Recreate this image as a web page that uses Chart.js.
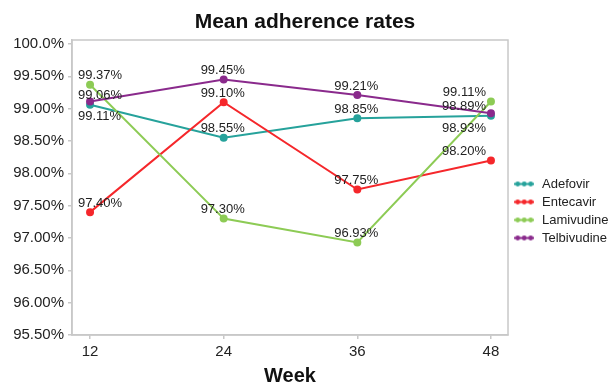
<!DOCTYPE html>
<html>
<head>
<meta charset="utf-8">
<script src="https://cdn.jsdelivr.net/npm/chart.js@4/dist/chart.umd.min.js"></script>
<style>
  html, body { margin: 0; padding: 0; background: #fff; }
  #wrap { width: 610px; height: 385px; }
</style>
</head>
<body>
<div id="wrap"><canvas id="chart" width="610" height="385"></canvas></div>
<script>
// Study weeks and mean adherence (%) per drug
const weeks = [12, 24, 36, 48];
const seriesNames = ['Adefovir', 'Entecavir', 'Lamivudine', 'Telbivudine'];
const adefovir = [99.06, 98.55, 98.85, 98.89];
const entecavir = [97.40, 99.10, 97.75, 98.20];
const lamivudine = [99.37, 97.30, 96.93, 99.11];
const telbivudine = [99.11, 99.45, 99.21, 98.93];

// Axis ticks
const yTickValues = [95.5, 96.0, 96.5, 97.0, 97.5, 98.0, 98.5, 99.0, 99.5, 100.0];
const yTickLabels = ['95.50%', '96.00%', '96.50%', '97.00%', '97.50%', '98.00%', '98.50%', '99.00%', '99.50%', '100.0%'];
const xTickLabels = ['12', '24', '36', '48'];

const seriesValues = [adefovir, entecavir, lamivudine, telbivudine];
const seriesColors = ['#26A29B', '#F5272B', '#8DCB55', '#8A2A8C'];
// indices whose value label sits under the point instead of above it
const labelsBelow = [[], [], [], [0, 3]];

const FONT = '"Liberation Sans", Arial, Helvetica, sans-serif';
Chart.defaults.font.family = FONT;
Chart.defaults.color = '#222';

// small legend marker: a line with three dots
function legendMarker(color) {
  const c = document.createElement('canvas');
  c.width = 20; c.height = 7;
  const g = c.getContext('2d');
  g.strokeStyle = color; g.fillStyle = color; g.lineWidth = 2;
  g.beginPath(); g.moveTo(0, 3.5); g.lineTo(20, 3.5); g.stroke();
  [3.5, 10, 16.5].forEach(x => { g.beginPath(); g.arc(x, 3.5, 2.4, 0, Math.PI * 2); g.fill(); });
  return c;
}

const datasets = seriesNames.map((name, s) => ({
  label: name,
  data: weeks.map((w, i) => ({ x: w, y: seriesValues[s][i] })),
  borderColor: seriesColors[s],
  backgroundColor: seriesColors[s],
  pointBackgroundColor: seriesColors[s],
  pointBorderColor: seriesColors[s],
  borderWidth: 2,
  pointRadius: 3,
  pointHoverRadius: 3,
  tension: 0,
  order: seriesNames.length - s,
  labelBelow: labelsBelow[s]
}));

// value labels next to each point
const valueLabels = {
  id: 'valueLabels',
  afterDatasetsDraw(chart) {
    const { ctx, chartArea } = chart;
    ctx.save();
    ctx.font = '13px ' + FONT;
    ctx.fillStyle = '#222';
    ctx.textBaseline = 'middle';
    ctx.textAlign = 'left';
    chart.data.datasets.forEach((ds, di) => {
      const meta = chart.getDatasetMeta(di);
      meta.data.forEach((pt, i) => {
        const text = ds.data[i].y.toFixed(2) + '%';
        const w = ctx.measureText(text).width;
        let left = pt.x - w / 2 - 1;
        left = Math.max(chartArea.left + 6, Math.min(chartArea.right - 22 - w, left));
        const below = ds.labelBelow.includes(i);
        ctx.fillText(text, left, pt.y + (below ? 15 : -9));
      });
    });
    ctx.restore();
  }
};

// light frame round the plot area
const plotFrame = {
  id: 'plotFrame',
  beforeDatasetsDraw(chart) {
    const { ctx, chartArea: a } = chart;
    ctx.save();
    ctx.strokeStyle = '#c8c8c8';
    ctx.lineWidth = 1.5;
    ctx.strokeRect(a.left, a.top, a.right - a.left, a.bottom - a.top);
    ctx.restore();
  }
};

new Chart(document.getElementById('chart'), {
  type: 'line',
  data: { datasets },
  plugins: [plotFrame, valueLabels],
  options: {
    responsive: false,
    animation: false,
    devicePixelRatio: 1,
    layout: { padding: 0 },
    plugins: {
      tooltip: { enabled: false },
      title: {
        display: true,
        text: 'Mean adherence rates',
        color: '#111',
        font: { size: 21, weight: 'bold', lineHeight: 1.2 },
        padding: { top: 10, bottom: 4.8 }
      },
      legend: {
        position: 'right',
        align: 'center',
        maxWidth: 102,
        title: { display: true, text: ' ', font: { size: 13, lineHeight: 1 }, padding: { top: 24, bottom: 0 } },
        labels: {
          usePointStyle: true,
          pointStyleWidth: 22.5,
          padding: 5,
          color: '#222',
          font: { size: 13, lineHeight: 1 },
          generateLabels(chart) {
            return chart.data.datasets.map((ds, i) => ({
              text: ds.label,
              pointStyle: legendMarker(ds.borderColor),
              fillStyle: ds.borderColor,
              strokeStyle: ds.borderColor,
              lineWidth: 0,
              fontColor: '#222',
              hidden: false,
              datasetIndex: i
            }));
          }
        }
      }
    },
    scales: {
      x: {
        type: 'linear',
        min: 10.38,
        max: 49.53,
        afterBuildTicks(scale) { scale.ticks = weeks.map(v => ({ value: v })); },
        afterFit(scale) { scale.height = 50; },
        ticks: {
          font: { size: 15 },
          color: '#222',
          padding: 4,
          callback: (v, i) => xTickLabels[i]
        },
        grid: { drawOnChartArea: false, drawTicks: true, tickLength: 4, color: '#c8c8c8', lineWidth: 1.5 },
        border: { display: true, color: '#c8c8c8', width: 1.5 },
        title: {
          display: true,
          text: 'Week',
          color: '#111',
          font: { size: 20, weight: 'bold', lineHeight: '18px' },
          padding: { top: 0, bottom: 0 }
        }
      },
      y: {
        type: 'linear',
        min: 95.5,
        max: 100.062,
        afterBuildTicks(scale) { scale.ticks = yTickValues.map(v => ({ value: v })); },
        afterFit(scale) { scale.width = 72; },
        ticks: {
          font: { size: 15 },
          color: '#222',
          padding: 4,
          callback: (v, i) => yTickLabels[i]
        },
        grid: { drawOnChartArea: false, drawTicks: true, tickLength: 4, color: '#c8c8c8', lineWidth: 1.5 },
        border: { display: true, color: '#c8c8c8', width: 1.5 }
      }
    }
  }
});
</script>
</body>
</html>
